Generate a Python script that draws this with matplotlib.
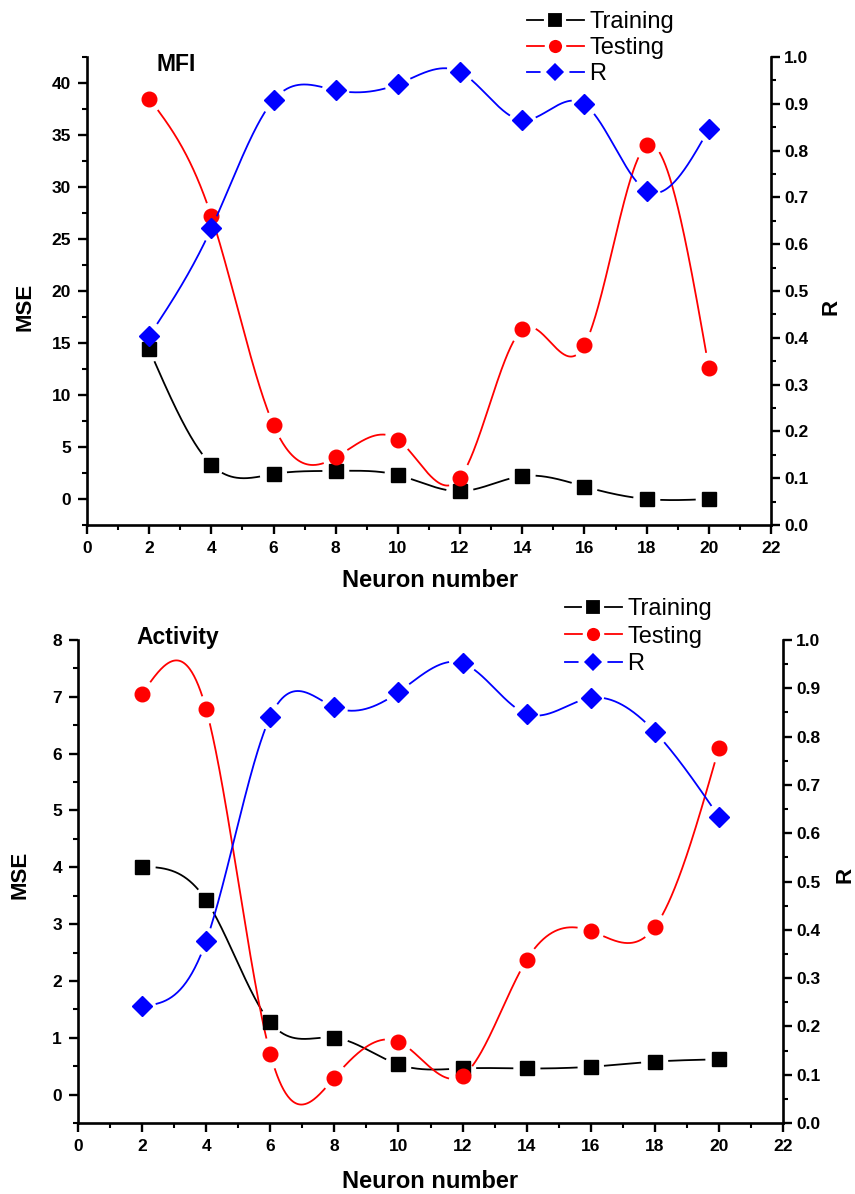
import numpy as np
import matplotlib
matplotlib.use("Agg")
import matplotlib.pyplot as plt
from matplotlib.lines import Line2D
from matplotlib.ticker import MultipleLocator

plt.rcParams['font.family'] = ['Liberation Sans', 'DejaVu Sans']

neurons = [2, 4, 6, 8, 10, 12, 14, 16, 18, 20]

# MFI model
mfi_training = [14.4, 3.3, 2.4, 2.7, 2.3, 0.75, 2.2, 1.2, 0.0, 0.0]
mfi_testing = [38.5, 27.2, 7.1, 4.0, 5.7, 2.05, 16.3, 14.8, 34.0, 12.6]
mfi_r = [0.404, 0.634, 0.908, 0.929, 0.942, 0.968, 0.865, 0.899, 0.714, 0.846]

# Activity model
act_training = [4.01, 3.42, 1.27, 1.0, 0.53, 0.46, 0.46, 0.49, 0.58, 0.62]
act_testing = [7.05, 6.78, 0.72, 0.30, 0.93, 0.33, 2.37, 2.88, 2.95, 6.1]
act_r = [0.242, 0.377, 0.841, 0.861, 0.892, 0.952, 0.847, 0.880, 0.810, 0.634]


def natural_spline(x, y, xs):
    x = np.asarray(x, float)
    y = np.asarray(y, float)
    n = len(x)
    h = np.diff(x)
    A = np.zeros((n, n))
    b = np.zeros(n)
    A[0, 0] = A[-1, -1] = 1
    for i in range(1, n - 1):
        A[i, i - 1] = h[i - 1]
        A[i, i] = 2 * (h[i - 1] + h[i])
        A[i, i + 1] = h[i]
        b[i] = 3 * ((y[i + 1] - y[i]) / h[i] - (y[i] - y[i - 1]) / h[i - 1])
    c = np.linalg.solve(A, b)
    idx = np.clip(np.searchsorted(x, xs) - 1, 0, n - 2)
    dx = xs - x[idx]
    hi = h[idx]
    bb = (y[idx + 1] - y[idx]) / hi - hi * (2 * c[idx] + c[idx + 1]) / 3
    d = (c[idx + 1] - c[idx]) / (3 * hi)
    return y[idx] + bb * dx + c[idx] * dx ** 2 + d * dx ** 3


def gapped_series(ax, x, y, color, marker, ms, gap=14):
    # spline through the points, cut open around each symbol
    xs = np.linspace(x[0], x[-1], 800)
    ys = natural_spline(x, y, xs)
    curve = ax.transData.transform(np.column_stack([xs, ys]))
    pts = ax.transData.transform(np.column_stack([x, y]))
    dist = np.min(np.hypot(curve[:, None, 0] - pts[None, :, 0],
                           curve[:, None, 1] - pts[None, :, 1]), axis=1)
    ys = np.where(dist < gap, np.nan, ys)
    ax.plot(xs, ys, color=color, lw=1.3, zorder=2)
    ax.plot(x, y, ls='none', marker=marker, ms=ms, color=color,
            mec=color, zorder=3)


def style_axes(ax, ax2, ymin):
    for a in (ax, ax2):
        a.spines['top'].set_visible(False)
        for s in ('left', 'right', 'bottom'):
            a.spines[s].set_linewidth(1.9)
        a.tick_params(which='major', direction='out', length=6.5, width=1.7,
                      labelsize=12.5, pad=5)
        a.tick_params(which='minor', direction='out', length=3.5, width=1.5)
    ax2.tick_params(axis='y', pad=3)
    ax.spines['right'].set_visible(False)
    ax2.spines['left'].set_visible(False)
    ax2.spines['bottom'].set_visible(False)
    ax.xaxis.set_minor_locator(MultipleLocator(1))
    ax.yaxis.set_minor_locator(MultipleLocator(ymin))
    ax2.yaxis.set_minor_locator(MultipleLocator(0.05))
    rt = np.arange(0, 1.01, 0.1)
    ax2.set_yticks(rt)
    ax2.set_yticklabels([f'{v:.1f}' for v in rt], fontweight='bold')


def panel(rect, ylim, ymaj, ymin, training, testing, r, name, name_pos,
          labpos, legend_anchor, spacing):
    ax = fig.add_axes(rect)
    ax2 = ax.twinx()
    style_axes(ax, ax2, ymin)
    ax.set_xticks(range(0, 23, 2))
    ax.set_xticklabels([str(v) for v in range(0, 23, 2)], fontweight='bold')
    yt = np.arange(0, ylim[1] + 1e-9, ymaj)
    ax.set_yticks(yt)
    ax.set_yticklabels([f'{v:g}' for v in yt], fontweight='bold')
    ax.set_xlim(0, 22)
    ax.set_ylim(*ylim)
    ax2.set_ylim(0, 1)

    gapped_series(ax, neurons, training, 'black', 's', 10.5)
    gapped_series(ax, neurons, testing, 'red', 'o', 10.5)
    gapped_series(ax2, neurons, r, 'blue', 'D', 10.5)

    ax.set_xlabel('Neuron number', fontsize=17, fontweight='bold',
                  va='center')
    ax.set_ylabel('MSE', fontsize=16, fontweight='bold', va='center')
    ax2.set_ylabel('R', fontsize=16, fontweight='bold', rotation=90,
                   va='center')
    ax.xaxis.set_label_coords(*labpos[0])
    ax.yaxis.set_label_coords(*labpos[1])
    ax2.yaxis.set_label_coords(*labpos[2])
    ax.text(name_pos[0], name_pos[1], name, transform=ax.transAxes,
            fontsize=16.5, fontweight='bold', va='center', ha='left')

    handles = [
        Line2D([], [], color='black', lw=1.3, marker='s', ms=12.5,
               mfc='black', mec='white', mew=3),
        Line2D([], [], color='red', lw=1.3, marker='o', ms=12.5,
               mfc='red', mec='white', mew=3),
        Line2D([], [], color='blue', lw=1.3, marker='D', ms=12.5,
               mfc='blue', mec='white', mew=3),
    ]
    ax2.legend(handles, ['Training', 'Testing', 'R'], loc='upper left',
               bbox_to_anchor=legend_anchor,
               bbox_transform=fig.transFigure, frameon=False, fontsize=17,
               handlelength=2.4, handletextpad=0.25, labelspacing=spacing,
               borderpad=0, borderaxespad=0, numpoints=1)


fig = plt.figure(figsize=(8.55, 11.94), dpi=100)

panel([87 / 855, 1 - 525 / 1194, 684 / 855, 468 / 1194], (-2.5, 42.5), 5, 2.5,
      mfi_training, mfi_testing, mfi_r, 'MFI', (0.102, 0.983),
      [(0.501, -0.118), (-0.091, 0.466), (1.087, 0.466)],
      (527 / 855, 1 - 11 / 1194), 0.18)

panel([78 / 855, 1 - 1123 / 1194, 705 / 855, 483 / 1194], (-0.5, 8), 1, 0.5,
      act_training, act_testing, act_r, 'Activity', (0.083, 1.006),
      [(0.499, -0.122), (-0.082, 0.513), (1.088, 0.513)],
      (565 / 855, 1 - 598 / 1194), 0.24)

fig.savefig('out.png', dpi=100)
